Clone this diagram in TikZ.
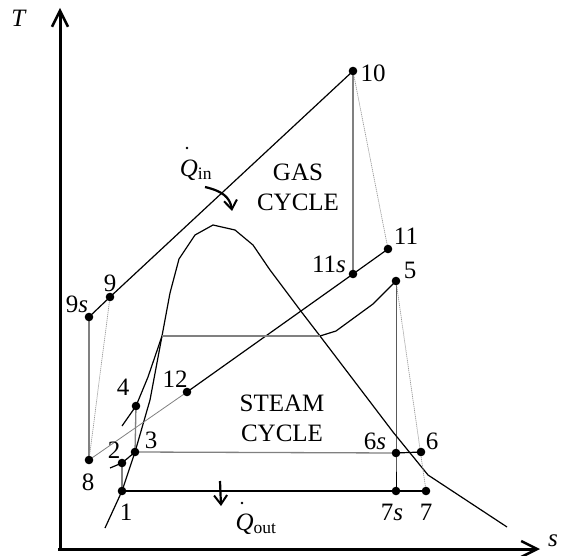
\documentclass[tikz,border=0pt]{standalone}
\usepackage{fontspec}
\setmainfont{Liberation Serif}
\usetikzlibrary{arrows.meta}
\begin{document}
\begin{tikzpicture}[x=1pt,y=-1pt,
  every node/.style={font=\fontsize{25}{30}\selectfont, inner sep=0pt},
  ln/.style={line width=1.2pt, black},
  gln/.style={line width=1.3pt, gray},
  fine/.style={line width=0.7pt, gray!80, dash pattern=on 1.2pt off 0.8pt},
  thin gray/.style={line width=0.8pt, gray},
  axis/.style={line width=3pt, -{Straight Barb[length=16pt,width=16pt,line width=2.5pt]}},
  heat/.style={line width=2.2pt, -{Straight Barb[length=9pt,width=13pt,line width=2pt]}},
  lbl/.style={anchor=center}
]
\useasboundingbox (0,0) rectangle (562,556);
% points
\coordinate (p1) at (122,491);
\coordinate (p2) at (122,463);
\coordinate (p3) at (135,452);
\coordinate (p4) at (136,406);
\coordinate (p5) at (396,281);
\coordinate (p6s) at (396,453);
\coordinate (p6) at (421,452);
\coordinate (p7s) at (396,491);
\coordinate (p7) at (426,491);
\coordinate (p8) at (89,460);
\coordinate (p9s) at (89,317);
\coordinate (p9) at (110,297);
\coordinate (p10) at (353,71);
\coordinate (p11s) at (353,274);
\coordinate (p11) at (388,249);
\coordinate (p12) at (187,392);
\coordinate (c2a) at (110,468);
\coordinate (c4a) at (122,426);
\coordinate (c4b) at (148,377);
\coordinate (pa) at (162,336);
\coordinate (pb) at (320,336);
\coordinate (sh1) at (336,331);
\coordinate (sh2) at (373,304);
\coordinate (origin) at (60,549);
\coordinate (ytip) at (60,8);
\coordinate (xstart) at (58,549);
\coordinate (xtip) at (540,549);
% axes
\draw[axis] (origin) -- (ytip);
\draw[axis] (xstart) -- (xtip);
% saturation dome
\draw[ln] (105,528) -- (p1) -- (p3) -- (150,400) -- (pa) -- (170,293) -- (179,259)
  -- (195,235) -- (213,225) -- (235,230) -- (253,245) -- (270,270) -- (300,310)
  -- (pb) -- (393,432) -- (428,475) -- (507,527);
% gas cycle
\draw[ln] (p9s) -- (p9) -- (p10);
\draw[gln] (p8) -- (p9s);
\draw[fine] (p8) -- (p9);
\draw[gln] (p10) -- (p11s);
\draw[fine] (p10) -- (p11);
\draw[thin gray] (p8) -- (p12);
\draw[ln] (p12) -- (p11s) -- (p11);
% steam cycle
\draw[gln] (p1) -- (p2);
\draw[ln] (c2a) -- (p2) -- (p3);
\draw[gln] (p3) -- (p4);
\draw[ln] (c4a) -- (p4) -- (c4b) -- (pa);
\draw[gln] (pa) -- (pb);
\draw[ln] (pb) -- (sh1) -- (sh2) -- (p5);
\draw[ln, line width=1pt] (p5) -- (p6s) -- (p7s);
\draw[fine] (p5) -- (p7);
\draw[gln] (p3) -- (p6s);
\draw[ln] (p6s) -- (p6);
\draw[ln] (p1) -- (p7s) -- (p7);
% dots
\foreach \c in {p1,p2,p3,p4,p5,p6s,p6,p7s,p7,p8,p9s,p9,p10,p11s,p11,p12}
  \fill (\c) circle (4.3pt);
% heat arrows
\coordinate (qa) at (205,187);
\coordinate (qb) at (232,211);
\draw[heat] (qa) .. controls (222,191) and (230,197) .. (qb);
\coordinate (qc) at (220,481);
\coordinate (qd) at (221,506);
\draw[heat] (qc) -- (qd);
% labels
\node[lbl] (lT) at (19,18) {\textit{T}};
\node[lbl] (ls) at (553,541) {\textit{s}};
\node[lbl] (l1) at (126,512) {1};
\node[lbl] (l2) at (114,450) {2};
\node[lbl] (l3) at (151,440) {3};
\node[lbl] (l4) at (123,387) {4};
\node[lbl] (l5) at (410,270) {5};
\node[lbl] (l6s) at (375,441) {6\textit{s}};
\node[lbl] (l6) at (432,441) {6};
\node[lbl] (l7s) at (392,512) {7\textit{s}};
\node[lbl] (l7) at (426,512) {7};
\node[lbl] (l8) at (88,482) {8};
\node[lbl] (l9s) at (77,304) {9\textit{s}};
\node[lbl] (l9) at (110,283) {9};
\node[lbl] (l10) at (373,73) {10};
\node[lbl] (l11s) at (329,264) {11\textit{s}};
\node[lbl] (l11) at (406,236) {11};
\node[lbl] (l12) at (175,379) {12};
\node[lbl, align=center] (gas) at (298,187) {GAS\\CYCLE};
\node[lbl, align=center] (steam) at (282,418) {STEAM\\CYCLE};
\node[lbl] (qin) at (196,170) {\textit{Q}\textsubscript{in}};
\node[lbl] (qout) at (256,524) {\textit{Q}\textsubscript{out}};
\fill (187,148) circle (1.3pt);
\fill (242,503) circle (1.3pt);
\end{tikzpicture}
\end{document}
